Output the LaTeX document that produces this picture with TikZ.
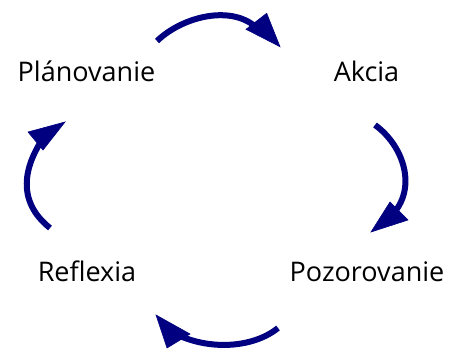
\documentclass[tikz,border=0pt]{standalone}
\usepackage{fontspec}
\setmainfont{Open Sans}
\definecolor{navyblue}{RGB}{0,0,128}
\tikzset{
  label/.style={font=\fontsize{27}{31}\selectfont, inner sep=0pt, anchor=base, text=black},
  shaft/.style={draw=navyblue, line width=6pt, line cap=butt},
  head/.style={fill=navyblue, draw=navyblue, line width=0.6pt, line join=miter}
}
\begin{document}
\begin{tikzpicture}[x=1pt,y=1pt]
\useasboundingbox (0,0) rectangle (449,351);
\node[label] (plan) at (86.5,269.3) {Plánovanie};
\node[label] (akcia) at (366.5,269.3) {Akcia};
\node[label] (refl) at (87,70) {Reflexia};
\node[label] (pozo) at (367,70) {Pozorovanie};
% top arrow
\coordinate (t0) at (157,310); \coordinate (t1) at (258,322);
\draw[shaft] (t0) .. controls (183,335) and (233,347) .. (t1);
\coordinate (tt) at (280,304.3); \coordinate (ta) at (266.7,337.7); \coordinate (tb) at (246,321.7);
\fill[head] (tt) -- (ta) -- (tb) -- cycle;
% right arrow
\coordinate (r0) at (375,226); \coordinate (r1) at (391,135);
\draw[shaft] (r0) .. controls (404,205) and (418,162) .. (r1);
\coordinate (rt) at (371,119); \coordinate (ra) at (390,149); \coordinate (rb) at (408,131);
\fill[head] (rt) -- (ra) -- (rb) -- cycle;
% bottom arrow
\coordinate (b0) at (278,23); \coordinate (b1) at (170,20);
\draw[shaft] (b0) .. controls (252,2) and (205,0) .. (b1);
\coordinate (bt) at (156,36); \coordinate (ba) at (190,17); \coordinate (bb) at (167,3);
\fill[head] (bt) -- (ba) -- (bb) -- cycle;
% left arrow
\coordinate (l0) at (50,123); \coordinate (l1) at (44,214);
\draw[shaft] (l0) .. controls (16,150) and (24,185) .. (l1);
\coordinate (lt) at (65,229); \coordinate (la) at (28,219); \coordinate (lb) at (43,201);
\fill[head] (lt) -- (la) -- (lb) -- cycle;
\end{tikzpicture}
\end{document}
